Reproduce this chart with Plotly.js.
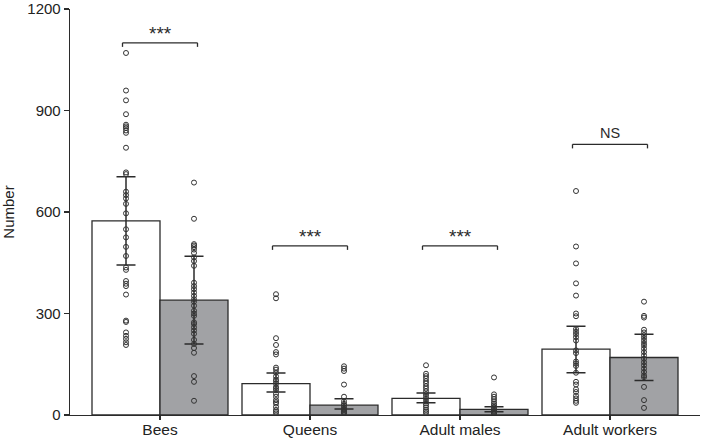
<!DOCTYPE html>
<html>
<head>
<meta charset="utf-8">
<script src="https://cdn.plot.ly/plotly-3.0.1.min.js"></script>
<style>html,body{margin:0;padding:0;background:#fff;}#chart{width:701px;height:440px;}</style>
</head>
<body>
<div id="chart"></div>
<script>
// ---- data ----
const categories = ['Bees', 'Queens', 'Adult males', 'Adult workers'];

// white bars (first group)
const meanWhite  = [574, 93, 49, 194.5];
const upperWhite = [704, 124, 65, 262];
const lowerWhite = [443, 68, 36, 125];

// grey bars (second group)
const meanGrey  = [339.5, 29, 16.7, 170];
const upperGrey = [469, 48, 24.4, 238.5];
const lowerGrey = [210, 17.6, 9.8, 102];

// individual observations
const beesWhite = [1070, 959, 930, 889, 858, 853, 848, 841, 834, 790, 717, 712, 660, 650, 640, 624, 596, 549, 525, 497, 470, 436, 429, 396, 388, 381, 356, 279, 275, 244, 234, 225, 215, 207];
const beesGrey = [687, 580, 505, 501, 496, 489, 479, 466, 455, 441, 391, 381, 372, 362, 352, 342, 335, 323, 308, 300, 293, 274, 269, 259, 250, 240, 222, 210, 198, 184, 115, 98, 42];
const queensWhite = [357, 345, 227, 207, 186, 179, 140, 134, 125, 114, 105, 100, 93, 83, 78, 73, 62, 54, 44, 38, 34, 24, 15, 10, 5];
const queensGrey = [144, 137, 130, 90, 54, 40, 33, 28, 22, 18, 14, 10, 7, 4];
const malesWhite = [147, 122, 115, 108, 100, 93, 85, 78, 70, 62, 55, 48, 40, 34, 28, 22, 15, 10, 5];
const malesGrey = [111, 61, 54, 47, 40, 34, 29, 24, 20, 16, 12, 9, 6, 3];
const workersWhite = [662, 498, 448, 389, 353, 300, 292, 254, 246, 239, 230, 220, 191, 183, 158, 152, 145, 125, 98, 90, 76, 68, 57, 49, 42, 36];
const workersGrey = [335, 293, 288, 252, 244, 236, 228, 220, 212, 205, 196, 186, 176, 166, 156, 147, 137, 127, 117, 112, 83, 44, 21];

// significance brackets
const bracketLevel = [1100, 500, 500, 800];
const bracketLabel = ['***', '***', '***', 'NS'];

const yTicks = [0, 300, 600, 900, 1200];

// ---- build ----
const ink = '#2b2b2b';
const greyFill = '#a1a2a5';
const whitePts = [beesWhite, queensWhite, malesWhite, workersWhite];
const greyPts = [beesGrey, queensGrey, malesGrey, workersGrey];

function flatten(groups) {
  const xs = [], ys = [];
  groups.forEach((g, i) => g.forEach(v => { xs.push(categories[i]); ys.push(v); }));
  return {xs, ys};
}
const wp = flatten(whitePts), gp = flatten(greyPts);

const errBar = (mean, up, lo) => ({
  type: 'data', symmetric: false,
  array: mean.map((m, i) => up[i] - m),
  arrayminus: mean.map((m, i) => m - lo[i]),
  color: ink, thickness: 1.5, width: 9.5
});

const traces = [
  {type: 'bar', x: categories, y: meanWhite, offsetgroup: 'w',
   marker: {color: '#ffffff', line: {color: ink, width: 1.3}},
   error_y: errBar(meanWhite, upperWhite, lowerWhite), hoverinfo: 'skip'},
  {type: 'bar', x: categories, y: meanGrey, offsetgroup: 'g',
   marker: {color: greyFill, line: {color: ink, width: 1.3}},
   error_y: errBar(meanGrey, upperGrey, lowerGrey), hoverinfo: 'skip'},
  {type: 'scatter', mode: 'markers', x: wp.xs, y: wp.ys, offsetgroup: 'w', orientation: 'v',
   marker: {symbol: 'circle-open', size: 5, color: '#333', line: {width: 1, color: '#333'}}, hoverinfo: 'skip'},
  {type: 'scatter', mode: 'markers', x: gp.xs, y: gp.ys, offsetgroup: 'g', orientation: 'v',
   marker: {symbol: 'circle-open', size: 5, color: '#333', line: {width: 1, color: '#333'}}, hoverinfo: 'skip'}
];

const shapes = [], annotations = [];
const half = 0.25, drop = 12;
bracketLevel.forEach((lvl, i) => {
  const ln = {color: ink, width: 1.3};
  shapes.push({type: 'line', xref: 'x', yref: 'y', x0: i - half, x1: i + half, y0: lvl, y1: lvl, line: ln});
  shapes.push({type: 'line', xref: 'x', yref: 'y', x0: i - half, x1: i - half, y0: lvl, y1: lvl - drop, line: ln});
  shapes.push({type: 'line', xref: 'x', yref: 'y', x0: i + half, x1: i + half, y0: lvl, y1: lvl - drop, line: ln});
  const isStar = bracketLabel[i] === '***';
  annotations.push({xref: 'x', yref: 'y', x: i, y: lvl, text: bracketLabel[i], showarrow: false,
    yanchor: 'bottom', yshift: isStar ? -3 : 1,
    font: {size: isStar ? 19 : 14.5, color: ink}});
});

const layout = {
  width: 701, height: 440,
  margin: {l: 70, r: 1, t: 9, b: 25},
  paper_bgcolor: '#fff', plot_bgcolor: '#fff',
  font: {family: '"Liberation Sans", Arial, sans-serif', size: 16, color: '#222'},
  barmode: 'group', bargap: 0.0933, bargroupgap: 0,
  scattermode: 'group', scattergap: 0.0933,
  showlegend: false,
  xaxis: {type: 'category', range: [-0.6, 3.6], showgrid: false, zeroline: false,
    showline: true, linecolor: ink, linewidth: 1.3,
    ticks: 'outside', ticklen: 4, tickcolor: ink, tickwidth: 1.3,
    ticklabelstandoff: -4,
    tickfont: {size: 15.5, color: '#222'}},
  yaxis: {range: [0, 1200], tickvals: yTicks, showgrid: false, zeroline: false,
    showline: true, linecolor: ink, linewidth: 1.3,
    ticks: 'outside', ticklen: 5, tickcolor: ink, tickwidth: 1.3,
    ticklabeloverflow: 'allow',
    tickfont: {size: 15, color: '#222'},
    title: {text: 'Number', font: {size: 15, color: '#222'}, standoff: 10}},
  shapes: shapes, annotations: annotations
};

Plotly.newPlot('chart', traces, layout, {displayModeBar: false, staticPlot: true});
</script>
</body>
</html>
